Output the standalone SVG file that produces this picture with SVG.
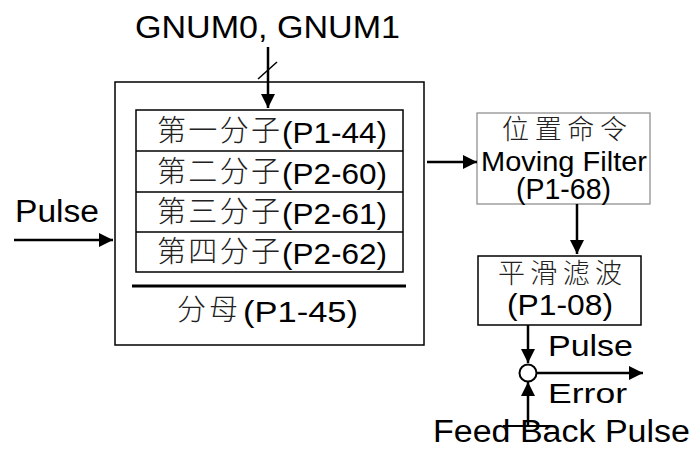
<svg xmlns="http://www.w3.org/2000/svg" width="698" height="452" viewBox="0 0 698 452">
<style>
.t{font-family:"Liberation Sans","Noto Sans CJK SC",sans-serif;fill:#000}
.c{font-family:"Noto Sans CJK SC","Liberation Sans",sans-serif;fill:#222;font-weight:300}
.box{fill:#fff;stroke:#000;stroke-width:1.5}
.ln{stroke:#000;stroke-width:2.5;fill:none}
.sep{stroke:#000;stroke-width:1.5}
</style>
<defs>
<marker id="ah" viewBox="0 0 14 14" refX="14" refY="7" markerWidth="14" markerHeight="14" markerUnits="userSpaceOnUse" orient="auto">
<path d="M0,0 L14,7 L0,14 Z" fill="#000"/>
</marker>
</defs>
<rect width="698" height="452" fill="#fff"/>
<g id="outer">
<rect class="box" x="115" y="82" width="309" height="263"/>
<line x1="132" y1="286" x2="406" y2="286" stroke="#000" stroke-width="3"/>
<text class="c" x="177" y="320" font-size="29" textLength="61" lengthAdjust="spacing">分母</text>
<text class="t" x="243" y="322" font-size="30" textLength="115" lengthAdjust="spacingAndGlyphs">(P1-45)</text>
</g>
<g id="numerators">
<rect class="box" x="136" y="110" width="267" height="162"/>
<line class="sep" x1="136" y1="151" x2="403" y2="151"/>
<line class="sep" x1="136" y1="192" x2="403" y2="192"/>
<line class="sep" x1="136" y1="232" x2="403" y2="232"/>
<text class="c" x="157" y="141" font-size="29" textLength="123" lengthAdjust="spacing">第一分子</text>
<text class="t" x="282" y="143" font-size="30" textLength="105" lengthAdjust="spacingAndGlyphs">(P1-44)</text>
<text class="c" x="157" y="182" font-size="29" textLength="123" lengthAdjust="spacing">第二分子</text>
<text class="t" x="282" y="184" font-size="30" textLength="105" lengthAdjust="spacingAndGlyphs">(P2-60)</text>
<text class="c" x="157" y="222" font-size="29" textLength="123" lengthAdjust="spacing">第三分子</text>
<text class="t" x="282" y="224" font-size="30" textLength="105" lengthAdjust="spacingAndGlyphs">(P2-61)</text>
<text class="c" x="157" y="262" font-size="29" textLength="123" lengthAdjust="spacing">第四分子</text>
<text class="t" x="282" y="264" font-size="30" textLength="105" lengthAdjust="spacingAndGlyphs">(P2-62)</text>
</g>
<g id="gnum">
<text class="t" x="135" y="38" font-size="32" textLength="265" lengthAdjust="spacingAndGlyphs">GNUM0, GNUM1</text>
</g>
<g id="pulse-in">
<text class="t" x="15" y="222" font-size="31" textLength="84" lengthAdjust="spacingAndGlyphs">Pulse</text>
</g>
<g id="moving-filter">
<rect x="477" y="113" width="173" height="91" fill="#fff" stroke="#888" stroke-width="1.2"/>
<text class="c" x="502" y="139" font-size="27" textLength="125" lengthAdjust="spacing">位置命令</text>
<text class="t" x="481" y="171" font-size="27" textLength="166" lengthAdjust="spacingAndGlyphs">Moving Filter</text>
<text class="t" x="516" y="199" font-size="29" textLength="95" lengthAdjust="spacingAndGlyphs">(P1-68)</text>
</g>
<g id="smoothing">
<rect class="box" x="478" y="256" width="163" height="69"/>
<text class="c" x="498" y="283" font-size="27" textLength="124" lengthAdjust="spacing">平滑滤波</text>
<text class="t" x="507" y="315" font-size="29" textLength="106" lengthAdjust="spacingAndGlyphs">(P1-08)</text>
</g>
<g id="sum">
<circle cx="528" cy="373" r="8.5" fill="#fff" stroke="#000" stroke-width="2"/>
</g>
<g id="labels">
<text class="t" x="548" y="356" font-size="29" textLength="85" lengthAdjust="spacingAndGlyphs">Pulse</text>
<text class="t" x="548" y="403" font-size="28" textLength="79" lengthAdjust="spacingAndGlyphs">Error</text>
<text class="t" x="433" y="442" font-size="31" textLength="257" lengthAdjust="spacingAndGlyphs">Feed Back Pulse</text>
</g>
<g id="connectors">
<line class="ln" x1="268" y1="47" x2="268" y2="108" marker-end="url(#ah)"/>
<line x1="258" y1="79" x2="277" y2="62" stroke="#000" stroke-width="1.5"/>
<line class="ln" x1="14" y1="240" x2="113" y2="240" marker-end="url(#ah)"/>
<line class="ln" x1="427" y1="162" x2="477" y2="162" marker-end="url(#ah)"/>
<line class="ln" x1="577" y1="204" x2="577" y2="254" marker-end="url(#ah)"/>
<line class="ln" x1="528" y1="325" x2="528" y2="363" marker-end="url(#ah)"/>
<line class="ln" x1="537" y1="373" x2="643" y2="373" marker-end="url(#ah)"/>
<line class="ln" x1="528" y1="427" x2="528" y2="382" marker-end="url(#ah)"/>
<line x1="503" y1="426" x2="552" y2="426" stroke="#000" stroke-width="2"/>
</g>
</svg>
